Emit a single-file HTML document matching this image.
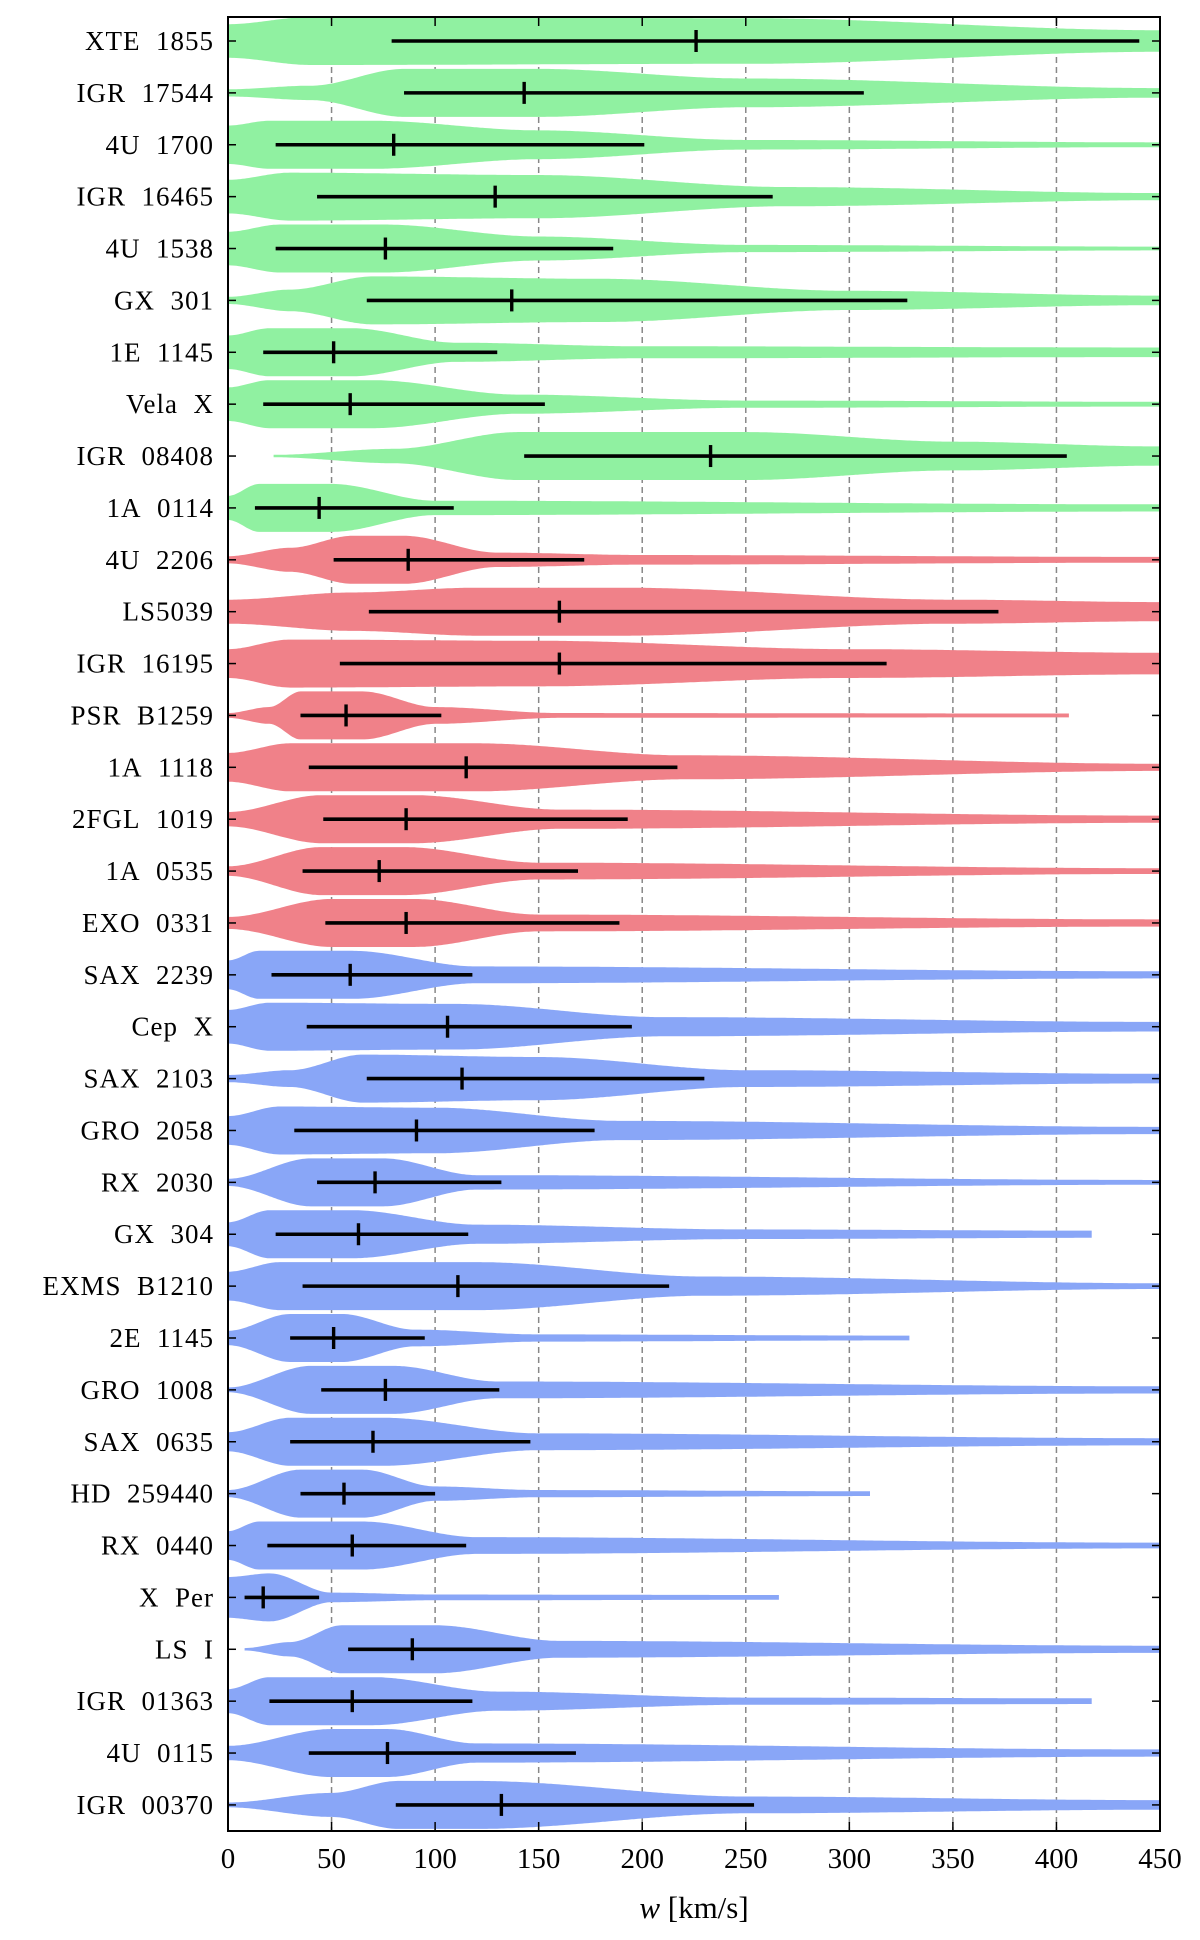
<!DOCTYPE html>
<html><head><meta charset="utf-8"><style>
html,body{margin:0;padding:0;background:#fff}
svg text{font-family:"Liberation Serif","DejaVu Serif",serif;fill:#000}
</style></head><body>
<svg id="chart" width="1200" height="1935" viewBox="0 0 1200 1935" xmlns="http://www.w3.org/2000/svg">
<g id="grid"></g>
<g id="violins"></g>
<g id="bars"></g>
<g id="axes"></g>
<text x="694" y="1918" font-size="31" text-anchor="middle"><tspan font-style="italic">w</tspan> [km/s]</text>
</svg>
<script>
const names=["XTE 1855","IGR 17544","4U 1700","IGR 16465","4U 1538","GX 301","1E 1145","Vela X","IGR 08408","1A 0114","4U 2206","LS5039","IGR 16195","PSR B1259","1A 1118","2FGL 1019","1A 0535","EXO 0331","SAX 2239","Cep X","SAX 2103","GRO 2058","RX 2030","GX 304","EXMS B1210","2E 1145","GRO 1008","SAX 0635","HD 259440","RX 0440","X Per","LS I","IGR 01363","4U 0115","IGR 00370"];
const groups=["g","g","g","g","g","g","g","g","g","g","r","r","r","r","r","r","r","r","b","b","b","b","b","b","b","b","b","b","b","b","b","b","b","b","b"];
const lows=[79,85,23,43,23,67,17,17,143,13,51,68,54,35,39,46,36,47,21,38,67,32,43,23,36,30,45,30,35,19,8,58,20,39,81];
const medians=[226,143,80,129,76,137,51,59,233,44,87,160,160,57,115,86,73,86,59,106,113,91,71,63,111,51,76,70,56,60,17,89,60,77,132];
const highs=[440,307,201,263,186,328,130,153,405,109,172,372,318,103,217,193,169,189,118,195,230,177,132,116,213,95,131,146,100,115,44,146,118,168,254];
const shapes=[
[[0,0.7],[40,1],[250,0.95],[450,0.45]],
[[0,0.15],[40,0.3],[85,1],[150,1],[250,0.6],[450,0.2]],
[[0,0.8],[20,1],[70,1],[150,0.6],[250,0.2],[450,0.1]],
[[0,0.7],[30,1],[150,0.9],[270,0.4],[450,0.15]],
[[0,0.7],[25,1],[75,1],[150,0.5],[250,0.15],[450,0.08]],
[[0,0.15],[30,0.45],[70,1],[180,0.9],[300,0.4],[450,0.2]],
[[0,0.7],[20,1],[60,1],[110,0.4],[200,0.25],[450,0.2]],
[[0,0.7],[20,1],[70,1],[140,0.4],[250,0.15],[450,0.1]],
[[22,0.05],[80,0.3],[140,1],[250,1],[350,0.6],[450,0.4]],
[[0,0.5],[15,1],[50,1],[100,0.3],[450,0.15]],
[[0,0.15],[30,0.5],[60,1],[85,1],[130,0.3],[200,0.2],[450,0.12]],
[[0,0.5],[60,0.8],[120,1],[190,1],[350,0.5],[450,0.4]],
[[0,0.6],[30,1],[150,0.95],[300,0.6],[450,0.45]],
[[0,0.1],[20,0.35],[35,1],[65,1],[100,0.35],[160,0.1],[406,0.08]],
[[0,0.6],[30,1],[120,1],[220,0.5],[450,0.15]],
[[0,0.3],[45,1],[90,1],[160,0.4],[450,0.15]],
[[0,0.2],[45,1],[85,1],[150,0.35],[450,0.12]],
[[0,0.25],[50,1],[90,1],[150,0.35],[450,0.15]],
[[0,0.6],[15,1],[60,1],[120,0.35],[450,0.15]],
[[0,0.7],[20,1],[110,0.95],[210,0.4],[450,0.2]],
[[0,0.15],[30,0.35],[65,1],[150,0.9],[250,0.35],[450,0.2]],
[[0,0.6],[25,1],[100,0.95],[190,0.4],[450,0.15]],
[[0,0.15],[40,1],[75,1],[120,0.3],[450,0.1]],
[[0,0.5],[20,1],[60,1],[120,0.4],[250,0.2],[417,0.15]],
[[0,0.6],[25,1],[120,1],[230,0.4],[450,0.12]],
[[0,0.3],[30,1],[55,1],[90,0.35],[150,0.15],[329,0.1]],
[[0,0.1],[40,1],[80,1],[130,0.35],[450,0.15]],
[[0,0.4],[30,1],[75,1],[150,0.35],[450,0.15]],
[[0,0.15],[35,1],[65,1],[100,0.3],[150,0.15],[310,0.1]],
[[0,0.6],[15,1],[65,1],[120,0.35],[450,0.12]],
[[0,0.85],[20,1],[50,0.2],[100,0.12],[266,0.1]],
[[8,0.05],[30,0.3],[55,1],[100,1],[160,0.35],[450,0.15]],
[[0,0.5],[20,1],[70,1],[130,0.4],[250,0.15],[417,0.12]],
[[0,0.3],[50,1],[77,1],[120,0.4],[450,0.15]],
[[0,0.1],[50,0.5],[82,1],[120,1],[250,0.35],[450,0.2]]
];
const xTicks=[0,50,100,150,200,250,300,350,400,450];
const colors={g:"#90f1a1",r:"#f08189",b:"#89a6f7"};
const L=228,R=1160,T=17,B=1831,Y0=41,DY=51.88,HW=24;
const NS="http://www.w3.org/2000/svg";
const xs=v=>L+(v-0)/(450-0)*(R-L);
const ys=i=>Y0+i*DY;
function mk(tag,attrs,parent){const e=document.createElementNS(NS,tag);for(const k in attrs)e.setAttribute(k,attrs[k]);parent.appendChild(e);return e;}
const grid=document.getElementById('grid'),vg=document.getElementById('violins'),bg=document.getElementById('bars'),ax=document.getElementById('axes');
xTicks.forEach(t=>{if(t>0&&t<450){const l=mk('line',{x1:xs(t),x2:xs(t),y1:T,y2:B,stroke:'#888','stroke-width':1.5,'stroke-dasharray':'6,4'},grid);

}});
function interp(kn,w){if(w<=kn[0][0])return kn[0][1];for(let j=1;j<kn.length;j++){if(w<=kn[j][0]){const a=kn[j-1],b=kn[j];let f=(w-a[0])/(b[0]-a[0]);f=f*f*(3-2*f);return a[1]+(b[1]-a[1])*f;}}return kn[kn.length-1][1];}
names.forEach((n,i)=>{
  const kn=shapes[i],y=ys(i),w0=kn[0][0],w1=kn[kn.length-1][0];
  const top=[],bot=[];
  for(let w=w0;w<=w1+0.001;w+=1){const h=interp(kn,w)*HW;top.push(xs(w).toFixed(1)+','+(y-h).toFixed(1));bot.unshift(xs(w).toFixed(1)+','+(y+h).toFixed(1));}
  const p=mk('polygon',{points:top.concat(bot).join(' '),fill:colors[groups[i]]},vg);
  
  
  const bar=mk('line',{x1:xs(lows[i]),x2:xs(highs[i]),y1:y,y2:y,stroke:'#000','stroke-width':3.6},bg);
  
  
  const md=mk('line',{x1:xs(medians[i]),x2:xs(medians[i]),y1:y-11,y2:y+11,stroke:'#000','stroke-width':3.4},bg);
  
  
  mk('line',{x1:L,x2:L+8,y1:y,y2:y,stroke:'#000','stroke-width':1.5},ax);
  mk('line',{x1:R-8,x2:R,y1:y,y2:y,stroke:'#000','stroke-width':1.5},ax);
  const tx=mk('text',{x:214,y:y+9,'font-size':27,'text-anchor':'end','letter-spacing':'1'},ax);
  tx.textContent=n.replace(' ','\u00a0\u00a0');
  
  
});
xTicks.forEach(t=>{
  mk('line',{x1:xs(t),x2:xs(t),y1:B,y2:B-9,stroke:'#000','stroke-width':1.5},ax);
  mk('line',{x1:xs(t),x2:xs(t),y1:T,y2:T+9,stroke:'#000','stroke-width':1.5},ax);
  const tx=mk('text',{x:xs(t),y:1868,'font-size':29,'text-anchor':'middle'},ax);
  tx.textContent=t;
  
  
});
const fr=mk('rect',{x:L,y:T,width:R-L,height:B-T,fill:'none',stroke:'#000','stroke-width':2},ax);


</script>
</body></html>
